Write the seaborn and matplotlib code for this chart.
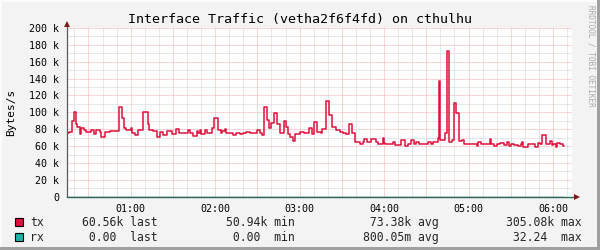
import matplotlib
matplotlib.use('Agg')
import matplotlib.pyplot as plt
import seaborn as sns
import pandas as pd
from matplotlib.ticker import MultipleLocator, FuncFormatter
from matplotlib.lines import Line2D
from matplotlib.patches import Rectangle

# ---------------- data (minutes after midnight, bytes/s in k) ----------------
tx_times = [14, 16, 18, 20, 21, 22, 24, 25, 27, 28, 32, 34, 35, 38, 39, 42, 45, 52, 54, 55,
            57, 60, 61, 63, 65, 69, 72, 73, 76, 79, 81, 83, 86, 89, 92, 94, 96, 100, 101, 102,
            104, 107, 108, 109, 110, 113, 114, 118, 119, 122, 124, 125, 127, 128, 133, 135, 138,
            140, 142, 145, 148, 150, 152, 153, 155, 157, 158, 160, 162, 164, 166, 169, 170, 172,
            173, 175, 177, 180, 183, 185, 187, 189, 190, 192, 195, 196, 199, 201, 203, 206, 209,
            211, 213, 215, 217, 219, 223, 225, 226, 228, 231, 234, 236, 239, 240, 241, 246, 248,
            252, 255, 257, 259, 261, 263, 265, 267, 271, 273, 275, 278, 279, 280, 283, 285, 286,
            288, 290, 291, 293, 295, 297, 299, 303, 306, 307, 309, 313, 315, 316, 318, 320, 322,
            325, 327, 329, 330, 332, 335, 337, 338, 339, 342, 345, 347, 349, 351, 352, 355, 358,
            359, 360, 362, 363, 365, 367]
tx_values_k = [75, 77, 90, 100, 86, 83, 74, 82, 79, 77, 79, 74, 79, 77, 71, 77, 78, 106, 93, 82,
               79, 81, 76, 73, 79, 100, 86, 79, 78, 71, 77, 73, 78, 74, 80, 76, 75, 76, 79, 75,
               72, 78, 75, 79, 74, 79, 76, 81, 93, 79, 75, 78, 80, 75, 73, 76, 74,
               76, 77, 75, 76, 79, 75, 73, 106, 91, 81, 87, 99, 86, 76, 90, 83, 74,
               71, 66, 74, 77, 76, 75, 81, 74, 89, 77, 75, 80, 113, 97, 83, 79, 77,
               75, 74, 86, 75, 65, 62, 65, 68, 65, 68, 65, 63, 70, 64, 62, 65, 61,
               67, 60, 63, 67, 63, 65, 63, 62, 65, 63, 65, 70, 137, 67, 76, 173, 65,
               67, 111, 99, 66, 67, 63, 62, 63, 60, 65, 62, 63, 68, 63, 60, 62, 64,
               61, 65, 60, 63, 61, 60, 63, 65, 59, 63, 62, 59, 64, 62, 73, 62, 66,
               61, 63, 59, 64, 63, 60]
tx_end_time = 368
rx_times = [14, 368]
rx_values_k = [0, 0]

hour_labels = ['01:00', '02:00', '03:00', '04:00', '05:00', '06:00']
legend_rows = [
    ('tx', '#E0103C', '60.56k last', '50.94k min', ' 73.38k avg', '305.08k max'),
    ('rx', '#20B2A6', ' 0.00  last', ' 0.00  min', '800.05m avg', ' 32.24  max'),
]
title = 'Interface Traffic (vetha2f6f4fd) on cthulhu'
ylabel = 'Bytes/s'
watermark = 'RRDTOOL / TOBI OETIKER'

# ---------------- figure ----------------
sns.set_theme(style='white')
plt.rcParams['font.family'] = ['DejaVu Sans Mono', 'DejaVu Sans']

W, H = 600, 250
def fx(px):
    return px / W
def fy(py):
    return 1 - py / H

fig = plt.figure(figsize=(6, 2.5), dpi=100, facecolor='#F3F3F3')
L, R, T, B = 67, 572, 28, 196.7
ax = fig.add_axes([fx(L), fy(B), (R - L) / W, (B - T) / H])
ax.set_facecolor('white')

tx_df = pd.DataFrame({'t': tx_times + [tx_end_time],
                      'v': [v * 1000 for v in tx_values_k] + [tx_values_k[-1] * 1000]})
rx_df = pd.DataFrame({'t': rx_times, 'v': [v * 1000 for v in rx_values_k]})

sns.lineplot(data=tx_df, x='t', y='v', ax=ax, drawstyle='steps-post',
             color='#E0103C', linewidth=1.1, zorder=4)

px_per_hour = (553 - 130.7) / 5
xmin = 60 - (130.7 - L) / px_per_hour * 60
xmax = 60 + (R - 130.7) / px_per_hour * 60
ax.set_xlim(xmin, xmax)
ax.set_ylim(0, 200000)

ax.xaxis.set_major_locator(MultipleLocator(30))
ax.xaxis.set_minor_locator(MultipleLocator(10))
def xfmt(v, pos):
    m = int(round(v))
    if m % 60 == 0 and 60 <= m <= 360:
        return hour_labels[m // 60 - 1]
    return ''
ax.xaxis.set_major_formatter(FuncFormatter(xfmt))
ax.yaxis.set_major_locator(MultipleLocator(20000))
ax.yaxis.set_minor_locator(MultipleLocator(10000))
ax.yaxis.set_major_formatter(FuncFormatter(lambda v, p: '0' if v == 0 else f'{int(round(v / 1000))} k'))

ax.grid(which='major', color='#F4AEAE', linestyle=(0, (1, 1)), linewidth=0.72)
ax.grid(which='minor', color='#D2D2D2', linestyle=(0, (1, 1)), linewidth=0.72)
ax.set_axisbelow(True)

ax.tick_params(axis='both', which='major', labelsize=7.2, colors='#000000',
               length=2, width=0.7, direction='out', pad=3.2)
ax.tick_params(axis='x', which='major', color='#9A6060')
ax.tick_params(axis='y', which='major', color='#9A6060', pad=3.6)
ax.tick_params(axis='both', which='minor', length=0)
ax.set_xlabel('')
ax.set_ylabel('')

for s in ['top', 'right', 'left', 'bottom']:
    ax.spines[s].set_visible(False)

# axes lines with arrows
ax.add_line(Line2D([0, 0], [0, 1 + 3 / (B - T)], transform=ax.transAxes, color='#5A5A5A',
                   linewidth=0.9, clip_on=False, zorder=5))
ax.add_line(Line2D([0, 1 + 3 / (R - L)], [0, 0], transform=ax.transAxes, color='#2E665C',
                   linewidth=1.0, clip_on=False, zorder=5))
sns.lineplot(data=rx_df, x='t', y='v', ax=ax, color='#2E665C', linewidth=1.0, zorder=6)
ax.set_xlim(xmin, xmax)
ax.plot([0], [1 + 4.5 / (B - T)], marker='^', markersize=4.5, color='#7F1A1A',
        transform=ax.transAxes, clip_on=False, zorder=7, markeredgewidth=0)
ax.plot([1 + 4.5 / (R - L)], [0], marker='>', markersize=4.5, color='#7F1A1A',
        transform=ax.transAxes, clip_on=False, zorder=7, markeredgewidth=0)
ax.set_xlabel('')
ax.set_ylabel('')

# title, y label, watermark
fig.text(fx(300), fy(23.5), title, ha='center', va='baseline', fontsize=9.6, color='#000000')
fig.text(fx(11), fy(112), ylabel, rotation=90, ha='center', va='center', fontsize=8, color='#000000')
fig.text(fx(591), fy(5), watermark, rotation=270, ha='center', va='top', fontsize=5.6, color='#AAAAAA')

# legend rows
baselines = [225.7, 240.7]
for (name, col, last, mn, avg, mx), yb in zip(legend_rows, baselines):
    fig.patches.append(Rectangle((fx(15), fy(yb)), 8 / W, 8 / H, transform=fig.transFigure,
                                 facecolor=col, edgecolor='#000000', linewidth=0.8))
    fig.text(fx(30), fy(yb), name, ha='left', va='baseline', fontsize=8.3)
    fig.text(fx(82), fy(yb), last, ha='left', va='baseline', fontsize=8.3)
    fig.text(fx(226.3), fy(yb), mn, ha='left', va='baseline', fontsize=8.3)
    fig.text(fx(362.7), fy(yb), avg, ha='left', va='baseline', fontsize=8.3)
    fig.text(fx(506), fy(yb), mx, ha='left', va='baseline', fontsize=8.3)

# frame shading
fig.patches.append(Rectangle((0, 1 - 2 / H), 1, 2 / H, transform=fig.transFigure,
                             facecolor='#FCFCFC', edgecolor='none'))
fig.patches.append(Rectangle((0, 0), 2 / W, 1, transform=fig.transFigure,
                             facecolor='#FCFCFC', edgecolor='none'))
fig.patches.append(Rectangle((0, 0), 1, 3 / H, transform=fig.transFigure,
                             facecolor='#A0A0A0', edgecolor='none'))
fig.patches.append(Rectangle((1 - 3 / W, 0), 3 / W, 1, transform=fig.transFigure,
                             facecolor='#A0A0A0', edgecolor='none'))

fig.savefig('out.png', dpi=100, facecolor=fig.get_facecolor())
